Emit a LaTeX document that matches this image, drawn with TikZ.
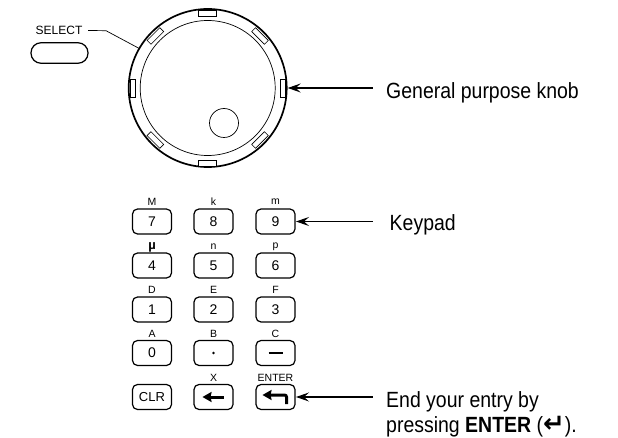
\documentclass[tikz,border=0pt]{standalone}
\usepackage{fontspec}
\setmainfont{Liberation Sans}
\newfontfamily\narrowfont[FakeStretch=0.885]{Liberation Sans}
\newfontfamily\symfont{DejaVu Sans}
\usetikzlibrary{arrows.meta}
\tikzset{
  keycap/.style={draw,line width=1.2pt,rounded corners=5pt,minimum width=39pt,minimum height=25pt,inner sep=0pt,outer sep=0pt,font=\fontsize{14}{15}\selectfont},
  keylabel/.style={inner sep=0pt,font=\fontsize{10.5}{11}\selectfont},
  notch/.style={draw,fill=white,line width=0.6pt,minimum width=18pt,minimum height=5.5pt,inner sep=0pt,outer sep=0pt},
  callout/.style={anchor=base west,inner sep=0pt,font=\narrowfont\fontsize{22}{24}\selectfont},
  pointer/.style={line width=1.1pt,shorten >=1pt,-{Stealth[length=13pt,width=9pt,inset=5pt]}},
  keyglyph/.style={line width=3pt,-{Stealth[length=9pt,width=10pt,inset=1pt]}}
}
\begin{document}
\begin{tikzpicture}[x=1pt,y=-1pt]
    \useasboundingbox (0,0) rectangle (618,438);

    % Mando general
    \node (knob) at (207.7,88) [circle,draw,line width=1.7pt,minimum size=158pt,inner sep=0pt,outer sep=0pt] {};
    \node (knobinner) at (207.7,88) [circle,draw,line width=0.7pt,minimum size=135pt,inner sep=0pt] {};
    \node (dimple) at (224,123) [circle,draw,line width=0.7pt,minimum size=29pt,inner sep=0pt] {};
    \node (notchE) at (282.7,88) [notch,rotate=90] {};
    \node (notchW) at (132.7,88) [notch,rotate=90] {};
    \node (notchN) at (207.7,13.5) [notch] {};
    \node (notchS) at (207.7,163.5) [notch] {};
    \node (notchNE) at (260,36) [notch,rotate=-45] {};
    \node (notchNW) at (155.4,36) [notch,rotate=45] {};
    \node (notchSE) at (260,140) [notch,rotate=45] {};
    \node (notchSW) at (155.4,140) [notch,rotate=-45] {};

    % Boton SELECT
    \node (selectbtn) at (59.5,53) [draw,line width=1.2pt,rounded corners=10pt,minimum width=57pt,minimum height=20.5pt,inner sep=0pt] {};
    \node (selectlab) at (59,30.5) [inner sep=0pt,font=\fontsize{12}{13}\selectfont] {SELECT};
    \coordinate (selectbend) at (106,30.7);
    \draw[line width=0.7pt] ([xshift=5.5pt]selectlab.east) -- (selectbend) -- (knob.150);

    % Teclado
    \node (key7) at (152,221.5) [keycap] {7};
    \node (key8) at (213.5,221.5) [keycap] {8};
    \node (key9) at (275.5,221.5) [keycap] {9};
    \node (key4) at (152,265.5) [keycap] {4};
    \node (key5) at (213.5,265.5) [keycap] {5};
    \node (key6) at (275.5,265.5) [keycap] {6};
    \node (key1) at (152,309.5) [keycap] {1};
    \node (key2) at (213.5,309.5) [keycap] {2};
    \node (key3) at (275.5,309.5) [keycap] {3};
    \node (key0) at (152,353) [keycap] {0};
    \node (keydot) at (213.5,353) [keycap] {};
    \node (keyminus) at (275.5,353) [keycap] {};
    \node (keyclr) at (152,397) [keycap,font=\fontsize{13}{14}\selectfont] {CLR};
    \node (keyback) at (213.5,397) [keycap] {};
    \node (keyenter) at (275.5,397) [keycap] {};

    % Etiquetas de las teclas
    \node (labM) at (152,202) [keylabel] {M};
    \node (labk) at (213.5,202) [keylabel] {k};
    \node (labm) at (275.5,202) [keylabel] {m};
    \node (labmu) at (152,247) [keylabel,font=\fontsize{13}{14}\bfseries\selectfont] {µ};
    \node (labn) at (213.5,247) [keylabel] {n};
    \node (labp) at (275.5,247) [keylabel] {p};
    \node (labD) at (152,290) [keylabel] {D};
    \node (labE) at (213.5,290) [keylabel] {E};
    \node (labF) at (275.5,290) [keylabel] {F};
    \node (labA) at (152,333.5) [keylabel] {A};
    \node (labB) at (213.5,333.5) [keylabel] {B};
    \node (labC) at (275.5,333.5) [keylabel] {C};
    \node (labX) at (213.5,377.5) [keylabel] {X};
    \node (labenter) at (275.5,377.5) [keylabel] {ENTER};

    % Simbolos de las teclas
    \fill (keydot) circle (1.4pt);
    \draw[line width=2.6pt] ([xshift=-7pt]keyminus.center) -- ([xshift=7pt]keyminus.center);
    \draw[keyglyph] ([xshift=10pt]keyback.center) -- ([xshift=-11pt]keyback.center);
    \draw[keyglyph,rounded corners=2pt] ([shift={(11pt,-7pt)}]keyenter.center) -- ([shift={(11pt,2pt)}]keyenter.center) -- ([shift={(-13pt,2pt)}]keyenter.center);

    % Textos y flechas
    \node (knobtext) at (386,98.5) [callout] {General purpose knob};
    \node (keypadtext) at (389.5,231) [callout] {Keypad};
    \node (entertext) at (386,407.5) [callout] {End your entry by};
    \node (entertextb) at (386,432.5) [callout] {pressing \textbf{ENTER} ({\symfont\bfseries\fontsize{26}{24}\selectfont ↵}).};
    \draw[pointer] ([xshift=-13.5pt]knobtext.base west |- knob.east) -- (knob.east);
    \draw[pointer] ([xshift=-17pt]keypadtext.base west |- key9.east) -- (key9.east);
    \draw[pointer] ([xshift=-13.5pt]entertext.base west |- keyenter.east) -- (keyenter.east);
\end{tikzpicture}
\end{document}
